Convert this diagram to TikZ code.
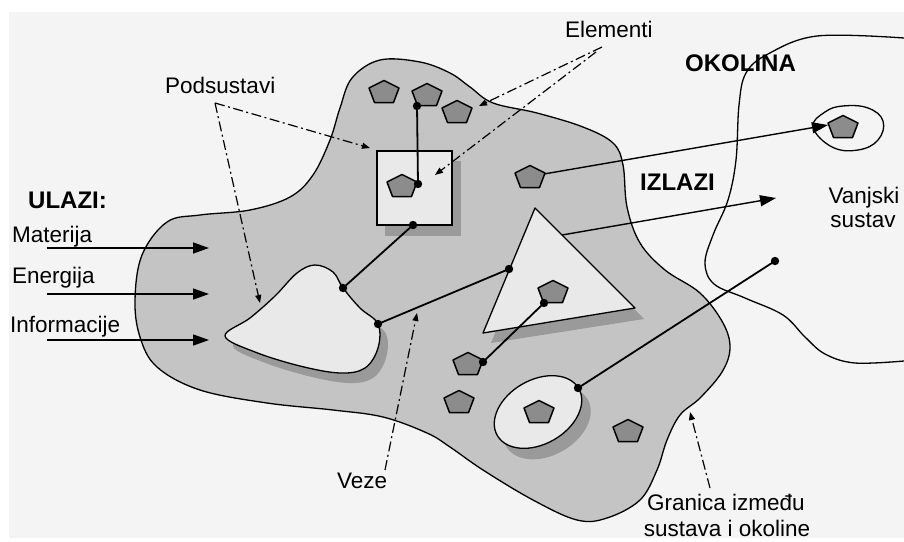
\documentclass[tikz,border=0pt]{standalone}
\usepackage{fontspec}
\setmainfont{Liberation Sans}
\usetikzlibrary{arrows.meta}
\definecolor{bgc}{HTML}{F4F4F4}
\definecolor{sysc}{HTML}{C4C4C4}
\definecolor{subc}{HTML}{E9E9E9}
\definecolor{shc}{HTML}{9A9A9A}
\definecolor{elc}{HTML}{8C8C8C}
\begin{document}
\begin{tikzpicture}[x=1pt,y=-1pt,
  outl/.style={draw=black, line width=1.3pt},
  conn/.style={line width=1.8pt},
  bigarr/.style={line width=1.4pt,-{Triangle[length=16pt,width=11pt]}},
  ptr/.style={line width=1.2pt, dash pattern=on 10pt off 3.5pt on 2pt off 3.5pt, -{Triangle[length=8pt,width=6pt]}},
  lbl/.style={font=\fontsize{22.5}{26}\selectfont, inner sep=0pt},
  blbl/.style={font=\bfseries\fontsize{24}{28}\selectfont, inner sep=0pt},
  penta/.pic={\filldraw[fill=elc, draw=black, line width=1.5pt, line join=round] (0,-11.5) -- (15,-4) -- (9.5,10.5) -- (-9.5,10.5) -- (-15,-4) -- cycle;}
]
\useasboundingbox (0,0) rectangle (904,541);
\fill[white] (0,0) rectangle (904,541);
\fill[bgc] (9,12) rectangle (904,538);

% environment boundary
\draw[line width=1.3pt] plot[smooth, tension=0.6] coordinates {(904,38) (817,36) (768,54) (746,73) (739,105) (736,160) (728,200) (713,235) (705,263) (714,284) (745,298) (783,315) (805,337) (825,354) (855,363) (904,361)};

% system blob
\filldraw[fill=sysc, outl] plot[smooth cycle, tension=0.6] coordinates {(380,60) (420,62) (450,73) (470,87) (493,103) (537,113) (583,127) (613,143) (623,165) (627,207) (640,243) (665,270) (700,293) (723,323) (730,348) (722,372) (700,398) (680,415) (667,440) (657,470) (640,500) (607,518) (577,520) (533,500) (483,470) (450,447) (427,433) (383,417) (333,410) (267,403) (200,390) (157,367) (140,337) (135,300) (142,255) (167,222) (200,215) (250,210) (290,197) (313,175) (330,140) (340,108) (352,78)};

% external element oval
\draw[line width=1.3pt] plot[smooth cycle, tension=0.7] coordinates {(813,127) (825,112) (843,106) (868,108) (883,121) (878,140) (858,150) (832,147)};

% shadows
\fill[shc] (385,161) rectangle (461,236);
\fill[shc] (543,218) -- (491,343) -- (644,319) -- cycle;
\begin{scope}[shift={(8,10)}]
\fill[shc] plot[smooth cycle, tension=0.6] coordinates {(225,336) (250,318) (275,296) (297,273) (315,265) (333,272) (343,288) (360,308) (378,324) (378,348) (365,368) (340,373) (300,366) (255,352)};
\end{scope}
\fill[shc, rotate around={30:(547,423)}] (547,423) ellipse [x radius=47, y radius=32];

% subsystems
\node[outl, fill=subc, minimum width=75pt, minimum height=74pt, inner sep=0pt] (sq) at (414.5,188) {};
\coordinate (t1) at (535,208);
\coordinate (t2) at (483,333);
\coordinate (t3) at (635,308);
\filldraw[fill=subc, outl, line join=round] (t1) -- (t2) -- (t3) -- cycle;
\filldraw[fill=subc, outl] plot[smooth cycle, tension=0.6] coordinates {(225,336) (250,318) (275,296) (297,273) (315,265) (333,272) (343,288) (360,308) (378,324) (378,348) (365,368) (340,373) (300,366) (255,352)};
\filldraw[fill=subc, outl, rotate around={30:(538,412)}] (538,412) ellipse [x radius=47, y radius=32];

% connector points
\coordinate (a1) at (417,106);
\coordinate (a2) at (418,184);
\coordinate (b1) at (413,225);
\coordinate (b2) at (343,288);
\coordinate (c1) at (378,324);
\coordinate (c2) at (509,269);
\coordinate (d1) at (544,303);
\coordinate (d2) at (483,362);
\coordinate (e1) at (562,235);
\coordinate (e2) at (776,198);
\coordinate (f1) at (544,174);
\coordinate (f2) at (828,125);
\coordinate (g1) at (578,388);
\coordinate (g2) at (775,261);

% connectors
\draw[conn] (a1) -- (a2);
\draw[conn] (b1) -- (b2);
\draw[conn] (c1) -- (c2);
\draw[conn] (d1) -- (d2);
\draw[conn] (g1) -- (g2);
\draw[bigarr] (e1) -- (e2);
\draw[bigarr] (f1) -- (f2);

% elements
\coordinate (p1) at (384,92);
\coordinate (p2) at (427,95);
\coordinate (p3) at (457,112);
\coordinate (p4) at (402,186);
\coordinate (p5) at (530,177);
\coordinate (p6) at (553,292);
\coordinate (p7) at (468,364);
\coordinate (p8) at (459,402);
\coordinate (p9) at (539,412);
\coordinate (p10) at (628,431);
\coordinate (p11) at (843,127);
\foreach \n in {p1,p2,p3,p4,p5,p6,p7,p8,p9,p10,p11}
  \pic at (\n) {penta};

% dots
\foreach \c in {a1,a2,b1,b2,c1,c2,d1,d2,g1,g2}
  \fill (\c) circle (4.2);

% inputs
\coordinate (i1s) at (47,248); \coordinate (i1e) at (209,248);
\coordinate (i2s) at (47,294); \coordinate (i2e) at (209,294);
\coordinate (i3s) at (47,340); \coordinate (i3e) at (209,340);
\draw[bigarr] (i1s) -- (i1e);
\draw[bigarr] (i2s) -- (i2e);
\draw[bigarr] (i3s) -- (i3e);

% labels
\node[lbl, anchor=base west] (podsus) at (165,93) {Podsustavi};
\node[lbl, anchor=base west] (elem) at (565,37) {Elementi};
\node[blbl, anchor=base west] (okol) at (685,71) {OKOLINA};
\node[blbl, anchor=base west] (izl) at (640,190) {IZLAZI};
\node[lbl, anchor=base] (vanj) at (864,203) {Vanjski};
\node[lbl, anchor=base] (sust) at (863,227) {sustav};
\node[blbl, anchor=base west] (ulazi) at (28,208) {ULAZI:};
\node[lbl, anchor=base west] (mat) at (12,242) {Materija};
\node[lbl, anchor=base west] (ene) at (12,283) {Energija};
\node[lbl, anchor=base west] (inf) at (10,332) {Informacije};
\node[lbl, anchor=base west] (veze) at (337,488) {Veze};
\node[lbl, anchor=base] (gran1) at (726,510) {Granica između};
\node[lbl, anchor=base] (gran2) at (727,536) {sustava i okoline};

% pointers
\coordinate (q0) at (215,103);
\coordinate (q1) at (370,148);
\coordinate (q2) at (260,303);
\coordinate (r0) at (602,47);
\coordinate (r1) at (479,106);
\coordinate (r0b) at (596,52);
\coordinate (r2) at (435,175);
\coordinate (s0) at (385,470);
\coordinate (s1) at (417,313);
\coordinate (u0) at (710,488);
\coordinate (u1) at (690,412);
\draw[ptr] (q0) -- (q1);
\draw[ptr] (q0) -- (q2);
\draw[ptr] (r0) -- (r1);
\draw[ptr] (r0b) -- (r2);
\draw[ptr] (s0) -- (s1);
\draw[ptr] (u0) -- (u1);
\end{tikzpicture}
\end{document}
